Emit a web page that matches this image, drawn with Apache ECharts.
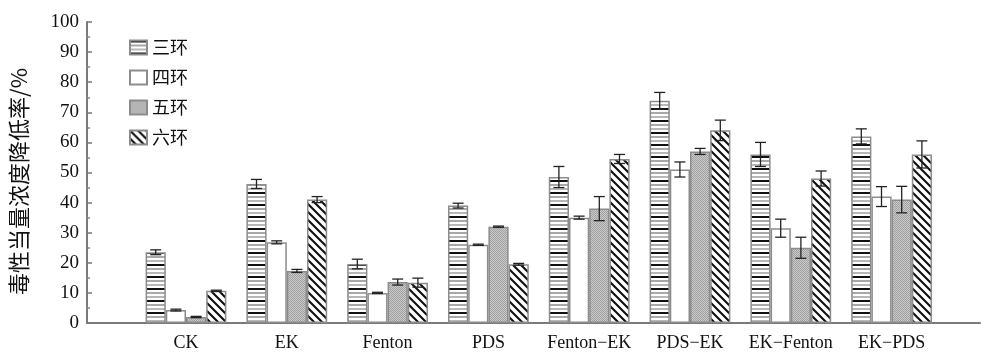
<!DOCTYPE html>
<html>
<head>
<meta charset="utf-8">
<script src="https://cdn.jsdelivr.net/npm/echarts@6/dist/echarts.min.js"></script>
<style>html,body{margin:0;padding:0;background:#fff;}#c{width:981px;height:354px;}</style>
</head>
<body>
<div id="c"></div>
<script>
const categories = ['CK', 'EK', 'Fenton', 'PDS', 'Fenton\u2212EK', 'PDS\u2212EK', 'EK\u2212Fenton', 'EK\u2212PDS'];
const seriesNames = ['三环', '四环', '五环', '六环'];
const san = [23.5, 46.2, 19.6, 39, 48.5, 73.8, 56, 62];
const sanErr = [0.8, 1.5, 1.6, 0.8, 3.5, 2.8, 4, 2.5];
const si = [4.3, 26.8, 10, 26, 35, 51, 31.5, 42];
const siErr = [0.3, 0.5, 0.2, 0.2, 0.5, 2.5, 3, 3.3];
const wu = [2, 17.3, 13.6, 32, 38, 57, 25, 41];
const wuErr = [0.2, 0.5, 1, 0.2, 4, 1, 3.5, 4.4];
const liu = [10.7, 41, 13.4, 19.5, 54.5, 64, 48, 56];
const liuErr = [0.2, 1, 1.5, 0.3, 1.5, 3.4, 2.5, 4.5];
const yTicks = [0, 10, 20, 30, 40, 50, 60, 70, 80, 90, 100];

function mkCanvas(w, h, draw) {
  const c = document.createElement('canvas');
  c.width = w; c.height = h;
  const ctx = c.getContext('2d');
  ctx.fillStyle = '#fff'; ctx.fillRect(0, 0, w, h);
  draw(ctx);
  return c;
}
const patSan = mkCanvas(4, 12, ctx => {
  ctx.fillStyle = '#111'; ctx.fillRect(0, 0, 4, 2);
  ctx.fillStyle = '#a8a8a8'; ctx.fillRect(0, 4, 4, 2);
  ctx.fillStyle = '#b8b8b8'; ctx.fillRect(0, 8, 4, 2);
});
const patWu = mkCanvas(2, 2, ctx => {
  ctx.fillStyle = '#cbcbcb'; ctx.fillRect(0, 0, 2, 2);
  ctx.fillStyle = '#a0a0a0'; ctx.fillRect(0, 0, 1, 1); ctx.fillRect(1, 1, 1, 1);
});
const patLiu = mkCanvas(8, 8, ctx => {
  ctx.strokeStyle = '#111'; ctx.lineWidth = 2.1;
  ctx.beginPath();
  for (let k = -2; k <= 2; k++) {
    ctx.moveTo(k * 8 - 1, -1); ctx.lineTo(k * 8 + 9, 9);
  }
  ctx.stroke();
});
const fills = [
  { image: patSan, repeat: 'repeat' },
  '#ffffff',
  { image: patWu, repeat: 'repeat' },
  { image: patLiu, repeat: 'repeat' }
];
const vals = [san, si, wu, liu];
const errs = [sanErr, siErr, wuErr, liuErr];

const BW = 20.2;
const serif = 'Liberation Serif';
const cjk = 'Noto Sans CJK SC';

const series = [];
seriesNames.forEach((n, i) => {
  series.push({
    name: n, type: 'bar', xAxisIndex: 1, yAxisIndex: 1,
    data: vals[i], barWidth: BW, barGap: '0%',
    itemStyle: { color: fills[i], borderColor: '#8c8c8c', borderWidth: 1.5 },
    emphasis: { disabled: true }, animation: false
  });
});
seriesNames.forEach((n, i) => {
  const off = (i - 1.5) * BW;
  series.push({
    type: 'custom', xAxisIndex: 1, yAxisIndex: 1, animation: false, z: 5,
    data: vals[i].map((v, j) => [j, v, errs[i][j]]),
    renderItem: function (params, api) {
      const cx = api.coord([api.value(0), 0])[0] + off;
      const yh = api.coord([api.value(0), api.value(1) + api.value(2)])[1];
      const yl = api.coord([api.value(0), api.value(1) - api.value(2)])[1];
      const cw = 5.5;
      const st = { stroke: '#222', lineWidth: 1.3 };
      return {
        type: 'group', children: [
          { type: 'line', shape: { x1: cx, y1: yh, x2: cx, y2: yl }, style: st },
          { type: 'line', shape: { x1: cx - cw, y1: yh, x2: cx + cw, y2: yh }, style: st },
          { type: 'line', shape: { x1: cx - cw, y1: yl, x2: cx + cw, y2: yl }, style: st }
        ]
      };
    }
  });
});

const chart = echarts.init(document.getElementById('c'), null, { renderer: 'canvas' });
chart.setOption({
  backgroundColor: '#fff',
  animation: false,
  grid: [
    { left: 85, right: 1, top: 22, bottom: 31 },
    { left: 135.6, width: 806.4, top: 22, bottom: 31 }
  ],
  legend: {
    data: seriesNames.map(n => ({ name: n, icon: 'rect' })), orient: 'vertical', left: 124, top: 30,
    itemWidth: 17, itemHeight: 14, itemGap: 5,
    textStyle: { fontFamily: cjk, fontSize: 18, color: '#111', lineHeight: 25 },
    selectedMode: false
  },
  xAxis: [
    { type: 'value', gridIndex: 0, min: 0, max: 1, axisLine: { show: true, lineStyle: { color: '#7a7a7a', width: 2 } },
      axisTick: { show: false }, axisLabel: { show: false }, splitLine: { show: false } },
    { type: 'category', gridIndex: 1, data: categories, axisLine: { show: false }, axisTick: { show: false },
      axisLabel: { fontFamily: serif, fontSize: 18, color: '#111', margin: 11, interval: 0 } }
  ],
  yAxis: [
    { type: 'value', gridIndex: 0, min: 0, max: 100, interval: 10,
      name: '毒性当量浓度降低率/%', nameLocation: 'middle', nameRotate: 90, nameGap: 57,
      nameTextStyle: { fontFamily: cjk, fontSize: 22, color: '#111', padding: [0, 18, 0, 0] },
      axisLine: { show: true, lineStyle: { color: '#7a7a7a', width: 2 } },
      axisTick: { show: true, inside: true, length: 5, lineStyle: { color: '#7a7a7a', width: 1.5 } },
      minorTick: { show: true, splitNumber: 2, length: 3, lineStyle: { color: '#8a8a8a', width: 1.5 } },
      axisLabel: { fontFamily: serif, fontSize: 19, color: '#111', margin: 8,
        formatter: v => yTicks.indexOf(v) >= 0 ? String(v) : '' },
      splitLine: { show: false } },
    { type: 'value', gridIndex: 1, min: 0, max: 100, show: false, splitLine: { show: false } }
  ],
  series: series
});
</script>
</body>
</html>
